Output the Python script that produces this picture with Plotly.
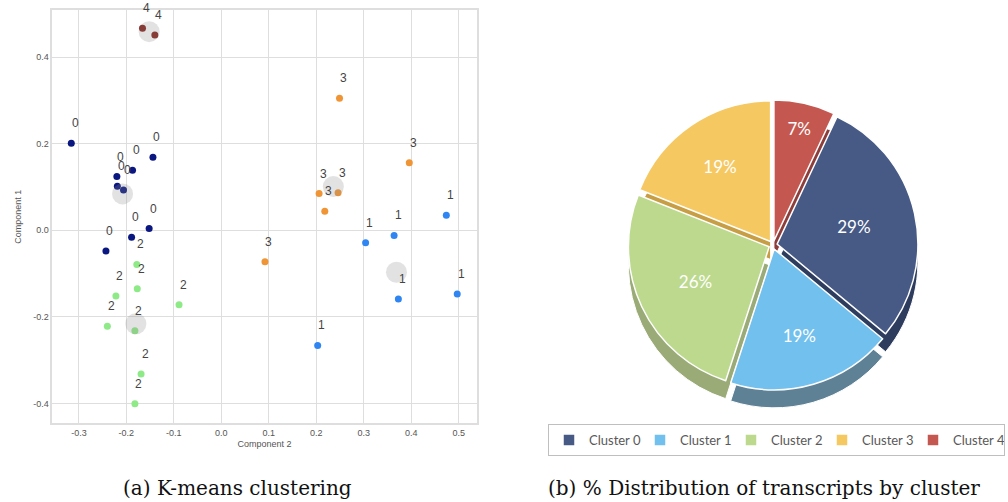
import plotly.graph_objects as go

# ---------------- data: K-means scatter ----------------
c0_x = [-0.316, -0.144, -0.187, -0.220, -0.219, -0.206, -0.152, -0.189, -0.243]
c0_y = [0.201, 0.169, 0.139, 0.124, 0.102, 0.093, 0.004, -0.016, -0.048]
c1_x = [0.474, 0.364, 0.304, 0.373, 0.497, 0.203]
c1_y = [0.035, -0.012, -0.029, -0.159, -0.147, -0.266]
c2_x = [-0.178, -0.177, -0.222, -0.089, -0.240, -0.182, -0.169, -0.182]
c2_y = [-0.079, -0.135, -0.152, -0.172, -0.222, -0.232, -0.332, -0.401]
c3_x = [0.249, 0.396, 0.206, 0.246, 0.218, 0.092]
c3_y = [0.305, 0.156, 0.085, 0.087, 0.044, -0.073]
c4_x = [-0.166, -0.140]
c4_y = [0.467, 0.451]
centroid_x = [-0.208, 0.369, -0.180, 0.236, -0.152]
centroid_y = [0.084, -0.097, -0.216, 0.101, 0.459]

x_ticks = [-0.3, -0.2, -0.1, 0.0, 0.1, 0.2, 0.3, 0.4, 0.5]
x_ticktext = ["-0.3", "-0.2", "-0.1", "0.0", "0.1", "0.2", "0.3", "0.4", "0.5"]
y_ticks = [-0.4, -0.2, 0.0, 0.2, 0.4]
y_ticktext = ["-0.4", "-0.2", "0.0", "0.2", "0.4"]

# ---------------- data: pie ----------------
pie_labels = ["Cluster 0", "Cluster 1", "Cluster 2", "Cluster 3", "Cluster 4"]
pie_values = [29, 19, 26, 19, 7]

scatter_colors = ["#0b1780", "#2f86f2", "#8eea86", "#f09536", "#86221d"]
pie_colors = ["#465a85", "#72c0ee", "#bcd98e", "#f5c862", "#c45850"]
pie_side_colors = ["#2e3d5e", "#5f8195", "#9aab77", "#c89e45", "#8e3e3a"]

clusters = [(c0_x, c0_y), (c1_x, c1_y), (c2_x, c2_y), (c3_x, c3_y), (c4_x, c4_y)]

fig = go.Figure()

for k, (xs, ys) in enumerate(clusters):
    fig.add_trace(go.Scatter(
        x=xs, y=ys, mode="markers",
        marker=dict(size=7, color=scatter_colors[k]),
        showlegend=False, hoverinfo="skip",
        xaxis="x", yaxis="y",
    ))

fig.add_trace(go.Scatter(
    x=centroid_x, y=centroid_y, mode="markers",
    marker=dict(size=21, color="rgba(140,140,140,0.25)"),
    showlegend=False, hoverinfo="skip", xaxis="x", yaxis="y",
))

annotations = []
for k, (xs, ys) in enumerate(clusters):
    for xv, yv in zip(xs, ys):
        annotations.append(dict(
            x=xv, y=yv, xref="x", yref="y", text=str(k), showarrow=False,
            xshift=4, yshift=20,
            font=dict(family="Liberation Sans", size=12, color="#444444"),
        ))

PX = 1008.0
PY = 502.0
pie_x = [598 / PX, 948 / PX]

# depth (side) of the pie
fig.add_trace(go.Pie(
    labels=pie_labels, values=pie_values, sort=False, direction="clockwise",
    rotation=25.2, pull=[0.03] * 5,
    marker=dict(colors=pie_side_colors, line=dict(color="white", width=1)),
    textinfo="none", showlegend=False, hoverinfo="skip",
    domain=dict(x=pie_x, y=[1 - 408 / PY, 1 - 118 / PY]),
))
# top face of the pie
fig.add_trace(go.Pie(
    labels=pie_labels, values=pie_values, sort=False, direction="clockwise",
    rotation=25.2, pull=[0.03] * 5,
    marker=dict(colors=pie_colors, line=dict(color="white", width=1.5)),
    texttemplate="%{value}%", textposition="inside", insidetextorientation="horizontal",
    textfont=dict(family="Lato", size=17, color="white"),
    domain=dict(x=pie_x, y=[1 - 390 / PY, 1 - 100 / PY]),
))

annotations.append(dict(
    x=237 / PX, y=1 - 488 / PY, xref="paper", yref="paper", xanchor="center", yanchor="middle",
    text="(a) K-means clustering",
    showarrow=False, font=dict(family="DejaVu Serif", size=20, color="#111111"),
))
annotations.append(dict(
    x=546 / PX, y=1 - 488 / PY, xref="paper", yref="paper", xanchor="left", yanchor="middle",
    text="(b) % Distribution of transcripts by cluster",
    showarrow=False, font=dict(family="DejaVu Serif", size=20, color="#111111"),
))

axis_common = dict(
    showgrid=True, gridcolor="#dedede", gridwidth=1, zeroline=False,
    showline=True, linecolor="#dedede", linewidth=1.5, mirror=True,
    ticks="", automargin=False,
    tickfont=dict(family="Liberation Sans", size=9, color="#555555"),
)

fig.update_layout(
    width=1008, height=502,
    margin=dict(l=0, r=0, t=0, b=0, autoexpand=False),
    paper_bgcolor="white", plot_bgcolor="white",
    xaxis=dict(domain=[52.3 / PX, 476.7 / PX], range=[-0.356, 0.538],
               tickvals=x_ticks, ticktext=x_ticktext,
               title=dict(text="Component 2", standoff=4,
                          font=dict(family="Liberation Sans", size=9, color="#555555")),
               **axis_common),
    yaxis=dict(domain=[1 - 423.3 / PY, 1 - 10 / PY], range=[-0.446, 0.509],
               tickvals=y_ticks, ticktext=y_ticktext,
               title=dict(text="Component 1", standoff=10,
                          font=dict(family="Liberation Sans", size=9, color="#555555")),
               **axis_common),
    legend=dict(orientation="h", x=548 / PX, y=1 - 424 / PY, xanchor="left", yanchor="top",
                bordercolor="#bfbfbf", borderwidth=1,
                font=dict(family="Lato", size=13, color="#595959"),
                itemwidth=30, entrywidth=46, entrywidthmode="pixels", tracegroupgap=0),
    annotations=annotations,
)

fig.write_html("out.html", config={"displayModeBar": False},
               post_script="document.body.style.margin='0px';document.body.style.overflow='hidden';")
